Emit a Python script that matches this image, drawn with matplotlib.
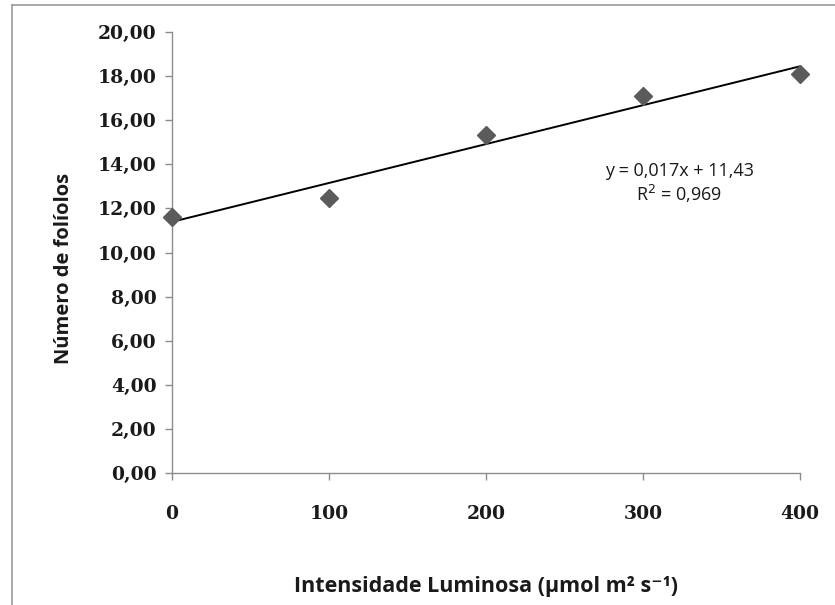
import matplotlib.pyplot as plt
import numpy as np
from matplotlib.lines import Line2D

intensidade = [0, 100, 200, 300, 400]
foliolos = [11.61, 12.47, 15.31, 17.10, 18.11]
y_ticks = [0, 2, 4, 6, 8, 10, 12, 14, 16, 18, 20]
equacao = "y = 0,017x + 11,43"
r2_texto = "R$^2$ = 0,969"

fig = plt.figure(figsize=(8.35, 6.05), dpi=100, facecolor='white')
ax = fig.add_axes([0.206, 0.218, 0.752, 0.729])

# linear trend
coef = np.polyfit(intensidade, foliolos, 1)
xs = np.array([intensidade[0], intensidade[-1]])
ax.plot(xs, np.polyval(coef, xs), color='black', lw=1.4, zorder=2, clip_on=False)
ax.plot(intensidade, foliolos, linestyle='none', marker='D', ms=9,
        color='#5b5b5b', zorder=3, clip_on=False)

ax.set_xlim(0, 400)
ax.set_ylim(0, 20)
ax.set_xticks(intensidade)
ax.set_yticks(y_ticks)
ax.set_yticklabels([("%.2f" % v).replace('.', ',') for v in y_ticks])

for s in ['top', 'right']:
    ax.spines[s].set_visible(False)
for s in ['left', 'bottom']:
    ax.spines[s].set_color('#8c8c8c')
    ax.spines[s].set_linewidth(1.0)
    ax.spines[s].set_zorder(1)

ax.tick_params(axis='both', direction='out', length=5, color='#8c8c8c',
               width=1.0, labelsize=13.5)
ax.tick_params(axis='y', pad=6)
ax.tick_params(axis='x', pad=18)
for lab in ax.get_xticklabels() + ax.get_yticklabels():
    lab.set_family('DejaVu Serif')
    lab.set_fontweight('bold')
    lab.set_color('#1a1a1a')

ax.set_xlabel("Intensidade Luminosa (µmol m² s⁻¹)", family=['Open Sans', 'DejaVu Sans'],
              fontweight='bold', fontsize=15.5, labelpad=38, color='#1a1a1a')
ax.set_ylabel("Número de folíolos", family=['Open Sans', 'DejaVu Sans'],
              fontweight='bold', fontsize=14.5, labelpad=17, color='#1a1a1a')
ax.yaxis.label.set_y(0.465)

ax.text(0.808, 0.685, equacao, transform=ax.transAxes, ha='center', va='center',
        family='Open Sans', fontsize=13, color='#1a1a1a')
ax.text(0.808, 0.632, r2_texto, transform=ax.transAxes, ha='center', va='center',
        family='Open Sans', fontsize=13, color='#1a1a1a')

# outer chart frame (partly cropped in original)
fig.add_artist(Line2D([12 / 835, 12 / 835], [0, 1 - 5 / 605], transform=fig.transFigure,
                      color='#9a9a9a', lw=1.2))
fig.add_artist(Line2D([12 / 835, 1], [1 - 5 / 605, 1 - 5 / 605], transform=fig.transFigure,
                      color='#9a9a9a', lw=1.2))

fig.savefig('out.png', dpi=100)
